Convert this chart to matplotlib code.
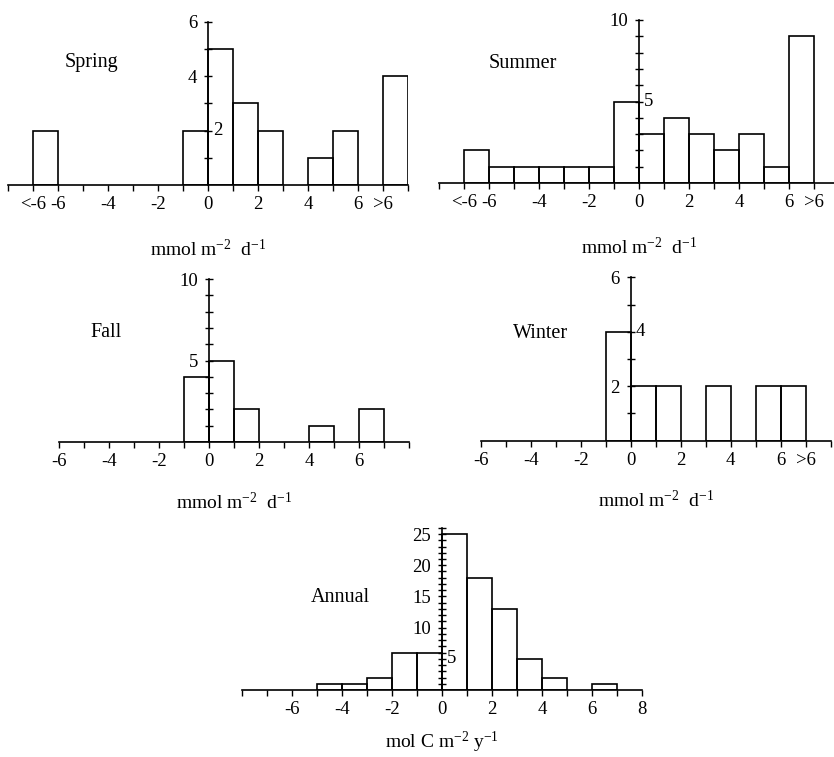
import numpy as np
import matplotlib
matplotlib.use("Agg")
import matplotlib.pyplot as plt

plt.rcParams["font.family"] = ["Liberation Serif", "DejaVu Serif"]
plt.rcParams["mathtext.fontset"] = "custom"
plt.rcParams["mathtext.rm"] = "Liberation Serif"
plt.rcParams["mathtext.it"] = "Liberation Serif:italic"

# histogram bins: left edge of each unit-wide bin and its count
spring_left = [-7, -1, 0, 1, 2, 4, 5, 7]
spring_n = [2, 2, 5, 3, 2, 1, 2, 4]

summer_left = [-7, -6, -5, -4, -3, -2, -1, 0, 1, 2, 3, 4, 5, 6]
summer_n = [2, 1, 1, 1, 1, 1, 5, 3, 4, 3, 2, 3, 1, 9]

fall_left = [-1, 0, 1, 4, 6]
fall_n = [4, 5, 2, 1, 2]

winter_left = [-1, 0, 1, 3, 5, 6]
winter_n = [4, 2, 2, 2, 2, 2]

annual_left = [-5, -4, -3, -2, -1, 0, 1, 2, 3, 4, 6]
annual_n = [1, 1, 2, 6, 6, 25, 18, 13, 5, 2, 1]

# x tick labels
lbl_open = {-7: "<-6", -6: "-6", -4: "-4", -2: "-2", 0: "0", 2: "2", 4: "4", 6: "6", 7: ">6"}
lbl_fall = {-6: "-6", -4: "-4", -2: "-2", 0: "0", 2: "2", 4: "4", 6: "6"}
lbl_winter = {-6: "-6", -4: "-4", -2: "-2", 0: "0", 2: "2", 4: "4", 6: "6", 7: ">6"}
lbl_annual = {-6: "-6", -4: "-4", -2: "-2", 0: "0", 2: "2", 4: "4", 6: "6", 8: "8"}

daily = "mmol m$^{-2}$  d$^{-1}$"
yearly = "mol C m$^{-2}$ y$^{-1}$"

W, H = 834, 757
fig = plt.figure(figsize=(W / 100, H / 100), dpi=100)
FS = 13.5


def panel(px, name, left, n, xlim, ylim, xlabels, yleft, yright, xlabel, name_xy, lpad=18.5):
    # px: (x0, x1, ybase, ytop) in pixels
    x0, x1, yb, yt = px
    ax = fig.add_axes([x0 / W, 1 - yb / H, (x1 - x0) / W, (yb - yt) / H])
    ax.bar(left, n, width=1, align="edge", fill=False, edgecolor="black", linewidth=1.2)
    ax.set_xlim(*xlim)
    ax.set_ylim(*ylim)
    for s in ["top", "right"]:
        ax.spines[s].set_visible(False)
    ax.spines["left"].set_position(("data", 0))
    ax.spines["left"].set_linewidth(1.2)
    ax.spines["bottom"].set_linewidth(1.2)
    xt = np.arange(xlim[0], xlim[1] + 1)
    ax.set_xticks(xt)
    ax.set_xticklabels([xlabels.get(int(v), "") for v in xt], fontsize=FS)
    yt_ = np.arange(1, ylim[1] + 1)
    ax.set_yticks(yt_)
    ax.set_yticklabels([str(int(v)) if int(v) in yleft else "" for v in yt_], fontsize=FS)
    for v in yright:
        ax.text(0.2, v, str(v), fontsize=FS, va="center", ha="left")
    ax.tick_params(axis="x", direction="out", length=4, width=1, pad=4)
    ax.tick_params(axis="y", direction="inout", length=6, width=1, pad=5)
    ax.set_xlabel(xlabel, fontsize=14, labelpad=lpad)
    ax.text(name_xy[0], name_xy[1], name, fontsize=14.5, va="center", ha="left")
    ax.patch.set_visible(False)
    return ax


panel((8.3, 408.3, 185, 21.7), "Spring", spring_left, spring_n, (-8, 8), (0, 6),
      lbl_open, [4, 6], [2], daily, (-5.73, 4.5))
panel((439, 839, 183, 20), "Summer", summer_left, summer_n, (-8, 8), (0, 10),
      lbl_open, [10], [5], daily, (-6.0, 7.35))
panel((59.3, 409.3, 442, 279), "Fall", fall_left, fall_n, (-6, 8), (0, 10),
      lbl_fall, [5, 10], [], daily, (-4.75, 6.7), lpad=15.5)
panel((480.7, 830.7, 440.7, 277.3), "Winter", winter_left, winter_n, (-6, 8), (0, 6),
      lbl_winter, [2, 6], [4], daily, (-4.7, 3.92), lpad=15.5)
panel((242.3, 642.3, 690, 527.8), "Annual", annual_left, annual_n, (-8, 8), (0, 26),
      lbl_annual, [10, 15, 20, 25], [5], yearly, (-5.25, 14.9), lpad=8.5)

fig.savefig("out.png", dpi=100)
